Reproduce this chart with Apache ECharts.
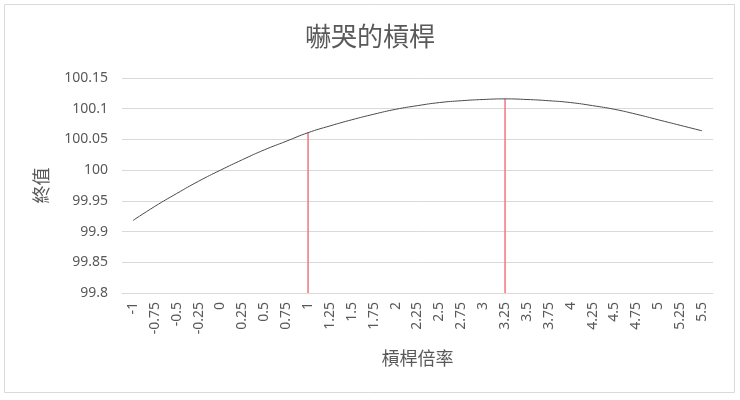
<!DOCTYPE html>
<html>
<head>
<meta charset="utf-8">
<script src="https://cdn.jsdelivr.net/npm/echarts@6/dist/echarts.min.js"></script>
<style>
  html, body { margin: 0; padding: 0; background: #fff; }
  #main { width: 740px; height: 400px; }
</style>
</head>
<body>
<div id="main"></div>
<script>
// 槓桿倍率
var leverage = ['-1', '-0.75', '-0.5', '-0.25', '0', '0.25', '0.5', '0.75', '1', '1.25', '1.5', '1.75', '2',
  '2.25', '2.5', '2.75', '3', '3.25', '3.5', '3.75', '4', '4.25', '4.5', '4.75', '5', '5.25', '5.5'];
// 終值
var finalValue = [99.918, 99.941, 99.962, 99.982, 100.000, 100.017, 100.033, 100.047, 100.061, 100.072,
  100.082, 100.091, 100.099, 100.105, 100.110, 100.113, 100.115, 100.116, 100.115, 100.113, 100.110,
  100.105, 100.099, 100.091, 100.082, 100.073, 100.064];
// 紅線標記的槓桿倍率
var markedLeverage = ['1', '3.25'];

var markedBars = leverage.map(function (x, i) {
  return markedLeverage.indexOf(x) >= 0 ? finalValue[i] : null;
});

var font = '"Noto Sans", "Noto Sans CJK TC", sans-serif';
var cjk = '"Noto Sans CJK TC", sans-serif';
var chart = echarts.init(document.getElementById('main'));
chart.setOption({
  animation: false,
  textStyle: { fontFamily: font },
  graphic: [{
    type: 'rect',
    shape: { x: 4.5, y: 4.5, width: 730, height: 388 },
    style: { fill: 'none', stroke: '#d9d9d9', lineWidth: 1 },
    silent: true
  }],
  title: {
    text: '嚇哭的槓桿',
    left: 'center',
    top: 18,
    textStyle: { fontSize: 26, fontWeight: 'normal', color: '#595959', fontFamily: cjk }
  },
  grid: { left: 122, right: 27, top: 78, bottom: 107 },
  xAxis: {
    type: 'category',
    data: leverage,
    boundaryGap: true,
    name: '槓桿倍率',
    nameLocation: 'middle',
    nameGap: 56,
    nameTextStyle: { fontSize: 18, color: '#595959', fontFamily: cjk },
    axisLine: { lineStyle: { color: '#d9d9d9' } },
    axisTick: { show: false },
    axisLabel: { rotate: 90, interval: 0, fontSize: 14, color: '#595959', margin: 9 }
  },
  yAxis: {
    type: 'value',
    min: 99.8,
    max: 100.15,
    interval: 0.05,
    name: '終值',
    nameLocation: 'middle',
    nameGap: 72,
    nameRotate: 90,
    nameTextStyle: { fontSize: 18, color: '#595959', fontFamily: cjk },
    axisLine: { show: false },
    axisTick: { show: false },
    splitLine: { lineStyle: { color: '#d9d9d9' } },
    axisLabel: {
      fontSize: 14,
      color: '#595959',
      margin: 14,
      formatter: function (v) { return String(parseFloat(v.toFixed(2))); }
    }
  },
  series: [
    {
      type: 'bar',
      data: markedBars,
      barWidth: 1.5,
      itemStyle: { color: '#f27583' },
      silent: true
    },
    {
      type: 'line',
      data: finalValue,
      smooth: true,
      showSymbol: false,
      lineStyle: { color: '#4a4a4a', width: 1 },
      z: 3
    }
  ]
});
</script>
</body>
</html>
